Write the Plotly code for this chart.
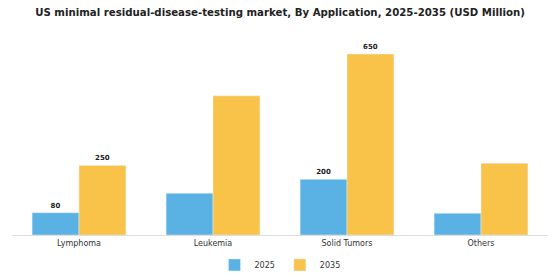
import plotly.graph_objects as go

categories = ["Lymphoma", "Leukemia", "Solid Tumors", "Others"]
values_2025 = [80, 150, 200, 78]
values_2035 = [250, 500, 650, 258]
labels_2025 = ["80", "", "200", ""]
labels_2035 = ["250", "", "650", ""]

blue = "#5AB1E4"
yellow = "#F9C34A"

fig = go.Figure()
fig.add_trace(go.Bar(
    x=categories, y=values_2025, name="2025", marker_color=blue,
    text=labels_2025, textposition="outside", cliponaxis=False,
    textfont=dict(family="DejaVu Sans", size=7, color="#222222", weight="bold"),
))
fig.add_trace(go.Bar(
    x=categories, y=values_2035, name="2035", marker_color=yellow,
    text=labels_2035, textposition="outside", cliponaxis=False,
    textfont=dict(family="DejaVu Sans", size=7, color="#222222", weight="bold"),
))

fig.update_layout(
    width=560, height=280,
    margin=dict(l=12, r=12, t=36, b=45, autoexpand=False),
    paper_bgcolor="white", plot_bgcolor="white",
    barmode="group", bargap=0.3, bargroupgap=0,
    font=dict(family="DejaVu Sans", size=8, color="#333333"),
    title=dict(
        text="<b>US minimal residual-disease-testing market, By Application, 2025-2035 (USD Million)</b>",
        x=0.5, xanchor="center", y=0.957, yanchor="middle",
        font=dict(family="DejaVu Sans", size=10.2, color="#222222"),
    ),
    xaxis=dict(showline=True, linecolor="#dddddd", linewidth=1, ticks="",
               showgrid=False, tickfont=dict(size=8, color="#333333")),
    yaxis=dict(visible=False, range=[0, 715], showgrid=False),
    legend=dict(orientation="h", x=0.5, xanchor="center", yref="container",
                y=0.054, yanchor="middle",
                font=dict(size=8, color="#333333"), traceorder="normal"),
    showlegend=True,
)

fig.write_html("out.html")
